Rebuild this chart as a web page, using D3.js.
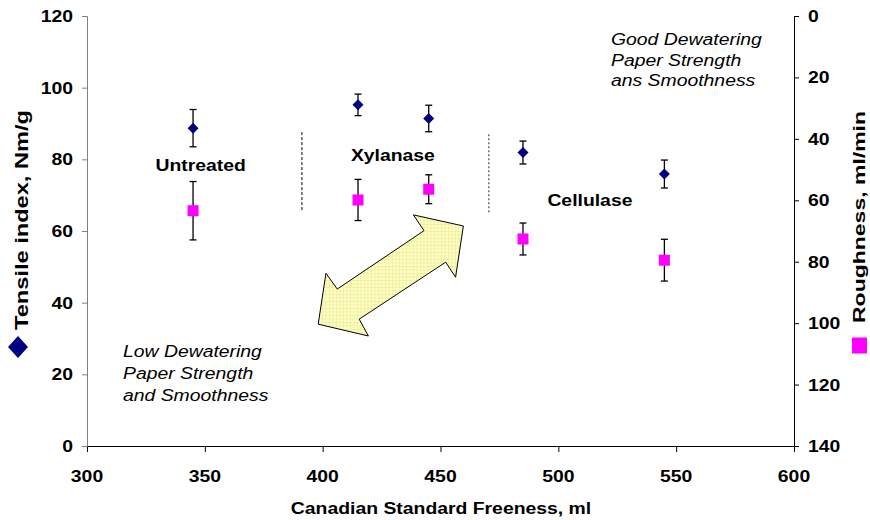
<!DOCTYPE html>
<html><head><meta charset="utf-8">
<script src="https://cdn.jsdelivr.net/npm/d3@7"></script>
<style>body{margin:0;background:#fff}svg{display:block}text{font-family:"Liberation Sans",Arial,sans-serif}</style>
</head><body><div id="chart"></div>
<script>
const freeness = [345, 415, 445, 485, 545];
const tensile = [88.7, 95.2, 91.4, 81.9, 75.9];
const tensileErr = [5.2, 3.0, 3.7, 3.2, 3.9];
const roughness = [63.4, 59.9, 56.4, 72.6, 79.5];
const roughnessErr = [9.5, 6.7, 4.7, 5.2, 6.8];
const xTicks = [300, 350, 400, 450, 500, 550, 600];
const yLeftTicks = [0, 20, 40, 60, 80, 100, 120];
const yRightTicks = [0, 20, 40, 60, 80, 100, 120, 140];
const groupLabels = [["Untreated", 348.2, 76.7], ["Xylanase", 429.8, 79.5], ["Cellulase", 513.4, 67.1]];
const dividers = [391.2, 470.5];
const goodText = ["Good Dewatering", "Paper Strength", "ans Smoothness"];
const lowText = ["Low Dewatering", "Paper Strength", "and Smoothness"];
const arrowPts = [[459.7,61.4],[438.5,64.5],[443.0,60.1],[406.2,43.8],[401.4,48.2],[398.1,34.0],[419.4,30.7],[415.5,35.4],[452.2,51.3],[456.4,47.1]];

const W = 870, H = 520, SX = 1.14;
const svg = d3.select("#chart").append("svg").attr("width", W).attr("height", H);
const x = d3.scaleLinear().domain([300, 600]).range([87, 794]);
const yL = d3.scaleLinear().domain([0, 120]).range([446, 16]);
const yR = d3.scaleLinear().domain([0, 140]).range([16, 446]);

function txt(px, py, s, opt) {
  opt = opt || {};
  return svg.append("text")
    .attr("transform", `translate(${px},${py}) scale(${SX},1)`)
    .attr("text-anchor", opt.anchor || "start")
    .attr("font-size", opt.size || 17)
    .attr("font-weight", opt.weight || "bold")
    .attr("font-style", opt.style || "normal")
    .attr("fill", "#000")
    .text(s);
}

const defs = svg.append("defs");
const pat = defs.append("pattern").attr("id", "grid").attr("width", 3.5).attr("height", 3.5).attr("patternUnits", "userSpaceOnUse");
pat.append("rect").attr("width", 3.5).attr("height", 3.5).attr("fill", "#ffffc4");
pat.append("path").attr("d", "M0,0.5H3.5M0.5,0V3.5").attr("stroke", "#eeeea0").attr("stroke-width", 0.8);

const xAxis = svg.append("g").attr("transform", "translate(0,446)")
  .call(d3.axisBottom(x).tickValues(xTicks).tickSize(6).tickFormat(""));
xAxis.select(".domain").attr("stroke", "#000");
xTicks.forEach(t => txt(x(t), 482, String(t), {anchor: "middle"}));

const yAxisL = svg.append("g").attr("transform", "translate(87,0)")
  .call(d3.axisLeft(yL).tickValues(yLeftTicks).tickSize(5).tickFormat(""));
yAxisL.selectAll(".domain,line").attr("stroke", "#808080");
yLeftTicks.forEach(t => txt(73, yL(t) + 6, String(t), {anchor: "end"}));

const yAxisR = svg.append("g").attr("transform", "translate(794,0)")
  .call(d3.axisRight(yR).tickValues(yRightTicks).tickSize(5).tickFormat(""));
yAxisR.selectAll(".domain,line").attr("stroke", "#000");
yRightTicks.forEach(t => txt(808, yR(t) + 6, String(t)));

txt(441, 514, "Canadian Standard Freeness, ml", {anchor: "middle"});
svg.append("text").attr("transform", "translate(28,220) rotate(-90)")
  .attr("text-anchor", "middle").attr("font-size", 18).attr("font-weight", "bold")
  .attr("textLength", 220).attr("lengthAdjust", "spacingAndGlyphs").text("Tensile index, Nm/g");
svg.append("text").attr("transform", "translate(865,217) rotate(-90)")
  .attr("text-anchor", "middle").attr("font-size", 17).attr("font-weight", "bold")
  .attr("textLength", 212).attr("lengthAdjust", "spacingAndGlyphs").text("Roughness, ml/min");
svg.append("path").attr("d", "M18,336L28,347L18,358L8,347Z").attr("fill", "#000080");
svg.append("rect").attr("x", 852).attr("y", 337.5).attr("width", 15).attr("height", 16).attr("fill", "#ff00ff");

svg.append("line").attr("x1", x(dividers[0])).attr("x2", x(dividers[0])).attr("y1", yL(87.6)).attr("y2", yL(65.3))
  .attr("stroke", "#000").attr("stroke-dasharray", "3,2");
svg.append("line").attr("x1", x(dividers[1])).attr("x2", x(dividers[1])).attr("y1", yL(87.0)).attr("y2", yL(65.0))
  .attr("stroke", "#707070").attr("stroke-width", 1.5).attr("stroke-dasharray", "2,2");

svg.append("path").attr("d", d3.line().x(d => x(d[0])).y(d => yL(d[1]))(arrowPts) + "Z")
  .attr("fill", "url(#grid)").attr("stroke", "#000").attr("stroke-width", 1);

groupLabels.forEach(g => txt(x(g[1]), yL(g[2]), g[0], {anchor: "middle"}));
goodText.forEach((s, i) => txt(611, 45 + i * 20.5, s, {weight: "normal", style: "italic"}));
lowText.forEach((s, i) => txt(123, 357 + i * 22, s, {weight: "normal", style: "italic"}));

function errBars(vals, errs, y) {
  freeness.forEach((f, i) => {
    const cx = x(f), t = y(vals[i] + errs[i]), b = y(vals[i] - errs[i]);
    const g = svg.append("g").attr("stroke", "#000").attr("stroke-width", 1.3);
    g.append("line").attr("x1", cx).attr("x2", cx).attr("y1", t).attr("y2", b);
    g.append("line").attr("x1", cx - 3.5).attr("x2", cx + 3.5).attr("y1", t).attr("y2", t);
    g.append("line").attr("x1", cx - 3.5).attr("x2", cx + 3.5).attr("y1", b).attr("y2", b);
  });
}
errBars(tensile, tensileErr, yL);
errBars(roughness, roughnessErr, yR);
freeness.forEach((f, i) => {
  const cx = x(f), cy = yL(tensile[i]);
  svg.append("path").attr("d", `M${cx},${cy-5.5}L${cx+5.5},${cy}L${cx},${cy+5.5}L${cx-5.5},${cy}Z`).attr("fill", "#000080");
});
svg.selectAll(".rough").data(freeness).join("rect").attr("class", "rough")
  .attr("x", d => x(d) - 5.5).attr("y", (d, i) => yR(roughness[i]) - 5.5)
  .attr("width", 11).attr("height", 11).attr("fill", "#ff00ff");
</script></body></html>
